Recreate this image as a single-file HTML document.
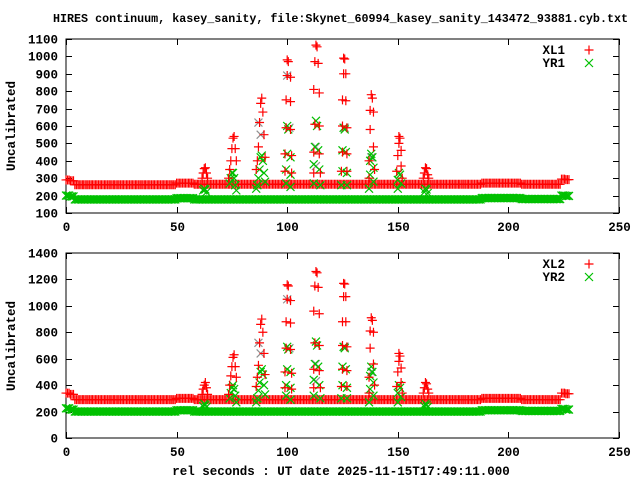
<!DOCTYPE html>
<html><head><meta charset="utf-8"><style>
html,body{margin:0;padding:0;background:#fff;}
svg{display:block;}
text{font-family:"Liberation Mono",monospace;font-size:12.5px;font-weight:bold;fill:#000;}
</style></head><body>
<svg id="chart" width="640" height="480" viewBox="0 0 640 480">
<text x="53" y="22" textLength="575" lengthAdjust="spacingAndGlyphs" style="font-size:12px">HIRES continuum, kasey_sanity, file:Skynet_60994_kasey_sanity_143472_93881.cyb.txt</text>
<text x="341" y="475" text-anchor="middle">rel seconds : UT date 2025-11-15T17:49:11.000</text>
<text transform="translate(15,126) rotate(-90)" text-anchor="middle">Uncalibrated</text>
<text transform="translate(15,346) rotate(-90)" text-anchor="middle">Uncalibrated</text>
</svg>
<script>
const bt=[0,2,4,6,8,10,12,14,16,18,20,22,24,26,28,30,32,34,36,38,40,42,44,46,48,50,52,54,56,58,60,62,64,66,68,70,72,74,76,78,80,82,84,86,88,90,92,94,96,98,100,102,104,106,108,110,112,114,116,118,120,122,124,126,128,130,132,134,136,138,140,142,144,146,148,150,152,154,156,158,160,162,164,166,168,170,172,174,176,178,180,182,184,186,188,190,192,194,196,198,200,202,204,206,208,210,212,214,216,218,220,222,224,226];
const bxl1=[290,285,262,262,262,262,262,262,262,262,262,262,262,262,262,262,262,262,262,262,262,262,262,262,262,272,272,272,272,265,265,265,265,265,265,265,265,265,265,265,265,265,265,265,265,265,265,265,265,265,265,265,265,265,265,265,265,265,265,265,265,265,265,265,265,265,265,265,265,265,265,265,265,265,265,265,265,265,265,265,265,265,265,265,265,265,265,265,265,265,265,265,265,265,272,272,272,272,272,272,272,272,272,265,265,265,265,265,265,265,265,265,295,292];
const byr1=[200,195,178,178,178,178,178,178,178,178,178,178,178,178,178,178,178,178,178,178,178,178,178,178,178,185,185,185,185,178,178,178,178,178,178,178,178,178,178,178,178,178,178,178,178,178,178,178,178,178,178,178,178,178,178,178,178,178,178,178,178,178,178,178,178,178,178,178,178,178,178,178,178,178,178,178,178,178,178,178,178,178,178,178,178,178,178,178,178,178,178,178,178,178,186,186,186,186,186,186,186,186,186,180,180,180,180,180,180,180,180,180,200,198];
const bxl2=[340,330,290,290,290,290,290,290,290,290,290,290,290,290,290,290,290,290,290,290,290,290,290,290,290,300,300,300,300,290,290,290,290,290,290,290,290,290,290,290,290,290,290,290,290,290,290,290,290,290,290,290,290,290,290,290,290,290,290,290,290,290,290,290,290,290,290,290,290,290,290,290,290,290,290,290,290,290,290,290,290,290,290,290,290,290,290,290,290,290,290,290,290,290,300,300,300,300,300,300,300,300,300,290,290,290,290,290,290,290,290,290,340,335];
const byr2=[225,215,200,200,200,200,200,200,200,200,200,200,200,200,200,200,200,200,200,200,200,200,200,200,200,210,210,210,210,200,200,200,200,200,200,200,200,200,200,200,200,200,200,200,200,200,200,200,200,200,200,200,200,200,200,200,200,200,200,200,200,200,200,200,200,200,200,200,200,200,200,200,200,200,200,200,200,200,200,200,200,200,200,200,200,200,200,200,200,200,200,200,200,200,210,210,210,210,210,210,210,210,210,205,205,205,205,205,205,205,205,205,220,215];
const ptx=[61.5,62,62.5,63,63.5,64, 73.5,74,74.5,75,75.5,76,76.5,77, 86,86.5,87,87.5,88,88.5,89,89.5,90, 100,100.5,100,101.5,99.5,101.5,99.5,101.5,99,102,99,102, 113,113.5,112.5,114,112,114.5,112.5,114.5,112,114.5,112,115, 125.5,126,125.5,126.5,125,126.5,125,127,125,127,124.5,127, 138,138.5,137.5,139,137.5,139,137,139.5,137, 150.5,151,150.5,151.5,150,151.5,149.5,152, 162.5,163,162,163.5,161.5,164];
const pxl1=[300,330,355,360,330,300, 300,350,400,470,530,540,470,400, 350,400,480,620,730,760,680,550,420, 980,970,890,880,750,740,590,580,440,430,340,330, 1065,1055,970,960,810,790,610,600,450,440,330,330, 990,985,900,900,750,745,600,590,450,440,340,340, 780,760,690,680,580,480,400,350,300, 540,530,500,460,430,370,340,300, 360,355,330,320,300,300];
const pxl2=[330,370,400,420,380,330, 330,400,470,540,610,630,540,460, 390,460,550,720,860,900,800,640,480, 1160,1150,1050,1040,880,870,680,670,500,490,380,370, 1260,1250,1150,1140,960,940,720,700,520,510,380,380, 1170,1165,1070,1070,880,880,700,690,520,510,390,390, 910,890,810,800,680,560,460,400,340, 640,620,580,530,500,420,390,340, 420,410,380,370,340,340];
const pty=[62,62.5,63,63.5, 74,74.5,75,75.5,76,76.5,77, 86,86.5,87,87.5,88,88.5,89,89.5,90, 100,100.5,100,101.5,99.5,101.5,99.5,101.5, 113,113.5,112.5,114,112,114.5,112,115, 125.5,126,125,126.5,125,127,124.5,127, 138,138.5,137.5,139,137.5,139,137, 150.5,151,150,151.5,150, 162.5,163,162,163.5];
const pyr1=[230,240,235,220, 270,300,330,330,300,260,230, 240,260,300,350,420,430,400,330,280, 600,580,440,420,350,320,270,250, 630,600,480,460,380,350,270,260, 590,580,460,450,340,330,260,260, 440,420,400,360,320,280,240, 330,320,290,270,240, 240,235,220,215];
const pyr2=[240,260,250,235, 300,340,380,400,370,320,270, 270,300,360,420,500,520,480,400,330, 690,670,520,500,400,380,320,290, 730,700,560,540,440,400,320,300, 690,680,540,520,400,380,300,300, 540,500,470,420,370,320,270, 400,380,340,310,270, 260,250,240,235];
const gt=[88,87,100,101,113,113,126,138];
const gv1=[550,620,890,590,480,370,590,420];
const gv2=[640,720,1050,680,560,430,690,500];
const xTicks=[0,50,100,150,200,250];
const yTicksTop=[100,200,300,400,500,600,700,800,900,1000,1100];
const yTicksBot=[0,200,400,600,800,1000,1200,1400];

const NS='http://www.w3.org/2000/svg';
const svg=document.getElementById('chart');
function mk(tag,attrs,parent){const e=document.createElementNS(NS,tag);for(const k in attrs)e.setAttribute(k,attrs[k]);(parent||svg).appendChild(e);return e;}
const X0=66,X1=619;
const xs=v=>X0+(v-0)/(250-0)*(X1-X0);

function panel(id,top,bot,ymin,ymax,yt,series,legend){
  const ys=v=>bot-(v-ymin)/(ymax-ymin)*(bot-top);
  const g=mk('g',{});
  
  
  const fr=mk('rect',{x:X0,y:top,width:X1-X0,height:bot-top,fill:'none',stroke:'#000','stroke-width':1},g);
  
  
  yt.forEach(v=>{
    const y=Math.round(ys(v))+0.5;
    const t=mk('path',{d:`M${X0},${y}h6M${X1},${y}h-6`,stroke:'#000'},g);
    
    
    const l=mk('text',{x:X0-8,y:y+4,'text-anchor':'end'},g);l.textContent=v;
    
    
  });
  xTicks.forEach(v=>{
    const x=Math.round(xs(v))+0.5;
    const t=mk('path',{d:`M${x},${bot}v-6M${x},${top}v6`,stroke:'#000'},g);
    
    
    const l=mk('text',{x:x,y:bot+18,'text-anchor':'middle'},g);l.textContent=v;
    
    
  });
  function plus(x,y,c,p){return mk('path',{d:`M${x-4.5},${y}h9M${x},${y-4.5}v9`,stroke:c,'stroke-width':1.2,fill:'none'},p);}
  function cross(x,y,c,p){return mk('path',{d:`M${x-4},${y-4}l8,8M${x-4},${y+4}l8,-8`,stroke:c,'stroke-width':1.2,fill:'none'},p);}
  series.forEach(s=>{
    const sg=mk('g',{},g);
    
    
    const offs=s.dense?[0,0.7,1.4]:[0];
    for(let i=0;i<s.t.length;i++){
      offs.forEach(o=>{
        const m=(s.m==='+'?plus:cross)(xs(s.t[i])+o*2.2,ys(s.v[i]),s.c,sg);
        
        
      });
    }
  });
  legend.forEach((L,i)=>{
    const y=top+11+i*13;
    const lt=mk('text',{x:565,y:y+4,'text-anchor':'end'},g);lt.textContent=L.label;
    
    
    const m=(L.m==='+'?plus:cross)(589,y,L.c,g);
    
    
  });
}
const RED='#ff0000',GRN='#00c000',GRY='#909090';
panel('top',39,213,100,1100,yTicksTop,[
  {name:'yr1-baseline',t:bt,v:byr1,c:GRN,m:'x',dense:true},
  {name:'xl1-baseline',t:bt,v:bxl1,c:RED,m:'+',dense:true},
  {name:'gray-series-top',t:gt,v:gv1,c:GRY,m:'x'},
  {name:'yr1-peaks',t:pty,v:pyr1,c:GRN,m:'x'},
  {name:'xl1-peaks',t:ptx,v:pxl1,c:RED,m:'+'}
],[{label:'XL1',c:RED,m:'+'},{label:'YR1',c:GRN,m:'x'}]);
panel('bottom',253,438,0,1400,yTicksBot,[
  {name:'yr2-baseline',t:bt,v:byr2,c:GRN,m:'x',dense:true},
  {name:'xl2-baseline',t:bt,v:bxl2,c:RED,m:'+',dense:true},
  {name:'gray-series-bottom',t:gt,v:gv2,c:GRY,m:'x'},
  {name:'yr2-peaks',t:pty,v:pyr2,c:GRN,m:'x'},
  {name:'xl2-peaks',t:ptx,v:pxl2,c:RED,m:'+'}
],[{label:'XL2',c:RED,m:'+'},{label:'YR2',c:GRN,m:'x'}]);
</script>
</body></html>
